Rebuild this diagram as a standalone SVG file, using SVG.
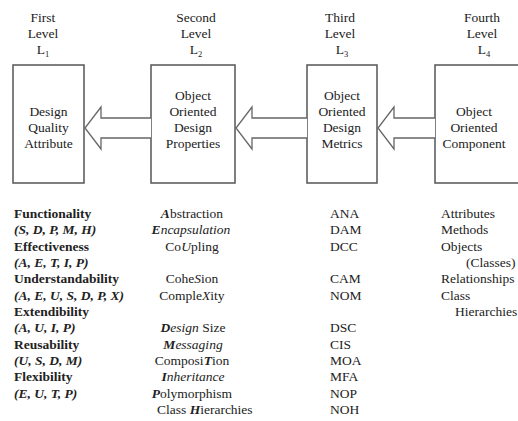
<svg xmlns="http://www.w3.org/2000/svg" width="518" height="421" viewBox="0 0 518 421">
<style>
text{font-family:"Liberation Serif","Times New Roman",serif;font-size:13.5px;fill:#222}
.c{text-anchor:middle}
.box{fill:#fff;stroke:#555;stroke-width:1.5}
.arr{fill:#fff;stroke:#666;stroke-width:1.3;stroke-linejoin:miter}
.b{font-weight:bold}
.bi{font-weight:bold;font-style:italic}
.i{font-style:italic}
.sub{font-size:8.5px}
</style>
<rect width="518" height="421" fill="#fff"/>
<g id="level1">
<text class="c" x="43" y="22">First</text>
<text class="c" x="43" y="38">Level</text>
<text class="c" x="43" y="54">L<tspan class="sub" dy="3">1</tspan></text>
<rect class="box" x="13" y="65" width="71" height="118"/>
<text class="c" x="48.5" y="116">Design</text>
<text class="c" x="48.5" y="132">Quality</text>
<text class="c" x="48.5" y="148">Attribute</text>
</g>
<g id="level2">
<text class="c" x="196" y="22">Second</text>
<text class="c" x="196" y="38">Level</text>
<text class="c" x="196" y="54">L<tspan class="sub" dy="3">2</tspan></text>
<rect class="box" x="151" y="65" width="84" height="118"/>
<text class="c" x="193" y="100">Object</text>
<text class="c" x="193" y="116">Oriented</text>
<text class="c" x="193" y="132">Design</text>
<text class="c" x="193" y="148">Properties</text>
</g>
<g id="level3">
<text class="c" x="340" y="22">Third</text>
<text class="c" x="340" y="38">Level</text>
<text class="c" x="342" y="54">L<tspan class="sub" dy="3">3</tspan></text>
<rect class="box" x="307" y="65" width="70" height="118"/>
<text class="c" x="342" y="100">Object</text>
<text class="c" x="342" y="116">Oriented</text>
<text class="c" x="342" y="132">Design</text>
<text class="c" x="342" y="148">Metrics</text>
</g>
<g id="level4">
<text class="c" x="482" y="22">Fourth</text>
<text class="c" x="482" y="38">Level</text>
<text class="c" x="484" y="54">L<tspan class="sub" dy="3">4</tspan></text>
<rect class="box" x="435" y="65" width="100" height="118"/>
<text class="c" x="474" y="116">Object</text>
<text class="c" x="474" y="132">Oriented</text>
<text class="c" x="474" y="148">Component</text>
</g>
<g id="connectors">
<polyline class="arr" points="151,118 101,118 101,107 85,128 101,149 101,138 151,138"/>
<polyline class="arr" points="307,118 252,118 252,107 236,128 252,149 252,138 307,138"/>
<polyline class="arr" points="435,118 394,118 394,107 378,128 394,149 394,138 435,138"/>
</g>
<g id="attributes">
<text class="b" x="14" y="218">Functionality</text>
<text class="bi" x="14" y="234">(S, D, P, M, H)</text>
<text class="b" x="14" y="250.5">Effectiveness</text>
<text class="bi" x="14" y="267">(A, E, T, I, P)</text>
<text class="b" x="14" y="283">Understandability</text>
<text class="bi" x="14" y="299.5">(A, E, U, S, D, P, X)</text>
<text class="b" x="14" y="316">Extendibility</text>
<text class="bi" x="14" y="332">(A, U, I, P)</text>
<text class="b" x="14" y="348.5">Reusability</text>
<text class="bi" x="14" y="365">(U, S, D, M)</text>
<text class="b" x="14" y="381">Flexibility</text>
<text class="bi" x="14" y="397.5">(E, U, T, P)</text>
</g>
<g id="properties">
<text class="c" x="192" y="218"><tspan class="bi">A</tspan>bstraction</text>
<text class="c i" x="191" y="234"><tspan class="b">E</tspan>ncapsulation</text>
<text class="c" x="192" y="250.5">Co<tspan class="i">U</tspan>pling</text>
<text class="c" x="192" y="283">Cohe<tspan class="i">S</tspan>ion</text>
<text class="c" x="192" y="299.5">Comple<tspan class="i">X</tspan>ity</text>
<text class="c" x="193" y="332"><tspan class="bi">D</tspan><tspan class="i">esign</tspan> Size</text>
<text class="c i" x="193" y="348.5"><tspan class="b">M</tspan>essaging</text>
<text class="c" x="192" y="365">Composi<tspan class="bi">T</tspan>ion</text>
<text class="c i" x="193" y="381"><tspan class="b">I</tspan>nheritance</text>
<text class="c" x="192" y="397.5"><tspan class="bi">P</tspan>olymorphism</text>
<text x="157" y="414">Class <tspan class="bi">H</tspan>ierarchies</text>
</g>
<g id="metrics">
<text x="330" y="218">ANA</text>
<text x="330" y="234">DAM</text>
<text x="330" y="250.5">DCC</text>
<text x="330" y="283">CAM</text>
<text x="330" y="299.5">NOM</text>
<text x="330" y="332">DSC</text>
<text x="330" y="348.5">CIS</text>
<text x="330" y="365">MOA</text>
<text x="330" y="381">MFA</text>
<text x="330" y="397.5">NOP</text>
<text x="330" y="414">NOH</text>
</g>
<g id="components">
<text x="441" y="218">Attributes</text>
<text x="441" y="234">Methods</text>
<text x="441" y="250.5">Objects</text>
<text x="466" y="267">(Classes)</text>
<text x="441" y="283">Relationships</text>
<text x="441" y="299.5">Class</text>
<text x="455" y="316">Hierarchies</text>
</g>
</svg>
